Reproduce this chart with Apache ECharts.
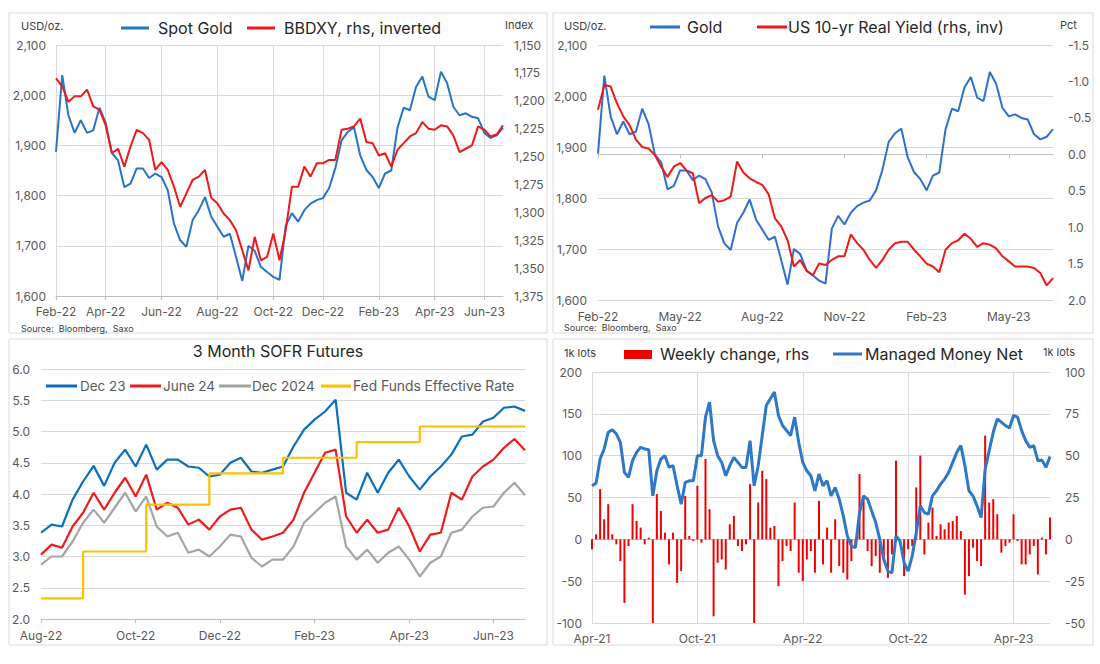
<!DOCTYPE html>
<html><head><meta charset="utf-8">
<script src="https://cdn.jsdelivr.net/npm/echarts@6/dist/echarts.min.js"></script>
<style>html,body{margin:0;padding:0;background:#fff}#c{width:1100px;height:664px}</style>
</head><body><div id="c"></div>
<script>
// ---------- DATA ----------
// Panels 1 & 2: weekly from 2022-02-28
const goldStart = '2022-02-28';
const gold = [1887,2040,1960,1925,1950,1925,1930,1975,1945,1885,1870,1817,1824,1854,1854,1835,1844,1837,1811,1744,
  1711,1698,1751,1771,1797,1758,1738,1718,1724,1678,1630,1700,1690,1658,1648,1638,1632,1740,1765,1748,
  1771,1784,1791,1795,1815,1855,1910,1927,1936,1880,1851,1837,1815,1844,1850,1935,1975,1970,2017,2037,
  1997,1990,2047,2024,1977,1960,1964,1957,1954,1925,1915,1920,1935];
const bbdxy = [1180,1187,1201,1196,1196,1190,1205,1208,1222,1247,1243,1259,1241,1226,1229,1235,1262,1255,1262,1277,
  1295,1283,1271,1268,1262,1287,1292,1301,1307,1316,1334,1352,1322,1343,1340,1319,1343,1316,1277,1277,
  1259,1268,1256,1256,1253,1253,1226,1225,1223,1216,1237,1238,1249,1247,1259,1244,1238,1232,1229,1219,
  1225,1226,1222,1223,1231,1246,1243,1240,1223,1226,1232,1230,1222];
const realYield = [-0.61,-0.95,-0.93,-0.70,-0.52,-0.40,-0.20,-0.10,-0.08,0.01,0.17,0.31,0.17,0.12,0.22,0.26,0.67,0.60,0.56,0.65,
  0.63,0.58,0.10,0.25,0.33,0.38,0.42,0.55,0.88,0.99,1.18,1.54,1.45,1.60,1.66,1.50,1.52,1.45,1.40,1.40,
  1.10,1.22,1.31,1.45,1.56,1.45,1.31,1.22,1.20,1.20,1.31,1.40,1.50,1.54,1.62,1.31,1.22,1.18,1.09,1.16,
  1.27,1.22,1.24,1.29,1.40,1.47,1.54,1.54,1.54,1.56,1.63,1.80,1.70];
const p1TickDates = ['2022-02-28','2022-04-28','2022-06-28','2022-08-28','2022-10-28','2022-12-28','2023-02-28','2023-04-28','2023-06-28'];
const p1TickLabels = ['Feb-22','Apr-22','Jun-22','Aug-22','Oct-22','Dec-22','Feb-23','Apr-23','Jun-23'];
const p2TickDates = ['2022-02-28','2022-05-28','2022-08-28','2022-11-28','2023-02-28','2023-05-28'];
const p2TickLabels = ['Feb-22','May-22','Aug-22','Nov-22','Feb-23','May-23'];

// Panel 3: weekly from 2022-08-26
const sofrStart = '2022-08-26';
const dec23 = [3.38,3.51,3.48,3.91,4.20,4.45,4.13,4.50,4.71,4.44,4.79,4.39,4.55,4.55,4.44,4.42,4.28,4.31,4.50,4.58,
  4.36,4.34,4.39,4.44,4.76,5.03,5.19,5.32,5.51,4.02,3.91,4.34,4.02,4.34,4.55,4.28,4.07,4.28,4.44,4.63,
  4.92,4.95,5.16,5.22,5.38,5.40,5.33];
const jun24 = [3.03,3.19,3.14,3.48,3.70,4.02,3.75,4.02,4.26,3.96,4.31,3.75,3.86,3.78,3.51,3.59,3.43,3.64,3.75,3.78,
  3.43,3.27,3.32,3.38,3.59,4.02,4.34,4.66,4.71,3.64,3.38,3.59,3.38,3.43,3.78,3.48,3.08,3.35,3.38,4.02,
  3.91,4.28,4.44,4.55,4.74,4.88,4.70];
const dec24 = [2.87,3.00,3.00,3.24,3.54,3.75,3.54,3.78,4.02,3.72,3.96,3.48,3.32,3.38,3.06,3.11,3.00,3.16,3.35,3.32,
  2.98,2.84,2.95,2.95,3.16,3.54,3.70,3.86,3.96,3.16,2.95,3.11,2.90,3.06,3.16,2.95,2.68,2.90,3.00,3.38,
  3.43,3.64,3.78,3.80,4.02,4.18,3.98];
const fedFunds = [2.33,2.33,2.33,2.33,3.08,3.08,3.08,3.08,3.08,3.08,3.83,3.83,3.83,3.83,3.83,3.83,4.33,4.33,4.33,4.33,
  4.33,4.33,4.33,4.58,4.58,4.58,4.58,4.58,4.58,4.58,4.83,4.83,4.83,4.83,4.83,4.83,5.08,5.08,5.08,5.08,
  5.08,5.08,5.08,5.08,5.08,5.08,5.08];
const p3TickDates = ['2022-08-26','2022-10-26','2022-12-26','2023-02-26','2023-04-26','2023-06-26'];
const p3TickLabels = ['Aug-22','Oct-22','Dec-22','Feb-23','Apr-23','Jun-23'];

// Panel 4: weekly from 2021-04-06
const cotStart = '2021-04-06';
const mmNet = [64,67,96,108,128,131,126,116,80,74,94,104,110,108,107,52,82,96,100,86,
  88,64,42,68,70,70,100,100,146,164,118,100,92,76,88,98,92,86,86,118,
  64,88,124,160,168,176,148,136,130,124,146,116,92,82,76,58,78,64,70,52,
  62,48,28,4,-8,-10,32,52,48,34,20,0,-24,-38,-40,4,-2,-28,-38,-20,
  8,40,32,30,52,58,66,72,80,92,104,112,88,58,52,40,26,84,106,128,
  144,140,136,133,148,146,130,118,110,112,94,95,86,99];
const weeklyChange = [-6,3,30,12,21,3,-3,-13,-38,-4,21,11,7,-3,1,-50,27,17,4,-15,
  4,-26,-19,26,2,-1,32,-2,48,18,-46,-14,-12,-18,9,14,-4,-7,-3,33,
  -50,22,41,36,7,8,-28,-13,-4,-7,22,-20,-25,-12,-7,-20,23,-15,7,-20,
  12,-16,-20,-24,-13,-4,39,26,-7,-16,-10,-20,-12,-23,-9,47,-3,-22,-6,-4,
  31,50,-9,10,19,2,9,6,10,11,14,5,-33,-22,-5,-13,-16,62,22,24,
  15,-8,-4,-2,15,-1,-15,-15,-9,-4,-21,1,-9,13];
const p4TickDates = ['2021-04-06','2021-10-06','2022-04-06','2022-10-06','2023-04-06'];
const p4TickLabels = ['Apr-21','Oct-21','Apr-22','Oct-22','Apr-23'];

// ---------- HELPERS ----------
const DAY = 864e5;
function weekly(start, n) {
  const t0 = Date.parse(start + 'T00:00:00Z'), out = [];
  for (let i = 0; i < n; i++) out.push(new Date(t0 + i * 7 * DAY).toISOString().slice(0, 10));
  return out;
}
function tickMap(start, dates, labels) {
  const t0 = Date.parse(start + 'T00:00:00Z'), m = {};
  dates.forEach((d, k) => { m[Math.round((Date.parse(d + 'T00:00:00Z') - t0) / (7 * DAY))] = labels[k]; });
  return m;
}
const FONT = 'Inter, "Noto Sans", sans-serif';
const AX = '#595959', GRID = '#d9d9d9', LINE = '#bfbfbf';

function catAxis(gi, cats, tmap, vgrid, margin) {
  const has = i => tmap[i] !== undefined;
  return {
    type: 'category', gridIndex: gi, data: cats, boundaryGap: false,
    axisLine: { lineStyle: { color: LINE } },
    axisTick: { show: true, interval: (i) => has(i), length: 4, lineStyle: { color: LINE } },
    axisLabel: { interval: (i) => has(i), formatter: (v, i) => tmap[i] || '', color: AX, fontSize: 12, fontFamily: FONT, margin: margin },
    splitLine: { show: vgrid, interval: (i) => has(i), lineStyle: { color: GRID } }
  };
}
function valAxis(gi, pos, min, max, interval, fmt, opts) {
  opts = opts || {};
  return {
    type: 'value', gridIndex: gi, position: pos, min: min, max: max, interval: interval,
    inverse: !!opts.inverse,
    axisLine: { show: false }, axisTick: { show: false },
    axisLabel: { formatter: fmt, color: AX, fontSize: 12, fontFamily: FONT, margin: opts.margin || 10 },
    splitLine: { show: !!opts.split, lineStyle: { color: GRID } }
  };
}
const thousands = v => v.toLocaleString('en-US');
const oneDec = v => (Math.abs(v) < 1e-9 ? 0 : v).toFixed(1);

const d1 = weekly(goldStart, gold.length);
const d3 = weekly(sofrStart, dec23.length);
const d4 = weekly(cotStart, mmNet.length);
const t1 = tickMap(goldStart, p1TickDates, p1TickLabels);
const t2 = tickMap(goldStart, p2TickDates, p2TickLabels);
const t3 = tickMap(sofrStart, p3TickDates, p3TickLabels);
const t4 = tickMap(cotStart, p4TickDates, p4TickLabels);

const BLUE = '#2774c8', RED = '#f01818';

function txt(x, y, s, size, color, align) {
  return { type: 'text', x: x, y: y, style: { text: s, fontSize: size, fontFamily: FONT, fill: color, verticalAlign: 'middle', align: align || 'left' } };
}
function lg(x1, x2, y, color, w) {
  return { type: 'line', shape: { x1: x1, y1: y, x2: x2, y2: y }, style: { stroke: color, lineWidth: w || 3 } };
}
function box(x, y, w, h) {
  return { type: 'rect', shape: { x: x, y: y, width: w, height: h }, style: { fill: 'none', stroke: '#d9d9d9', lineWidth: 1 }, z: -1 };
}

const option = {
  animation: false,
  backgroundColor: '#fff',
  grid: [
    { left: 56, right: 597, top: 45, bottom: 368, outerBoundsMode: 'none' },
    { left: 598, right: 47, top: 45, bottom: 364, outerBoundsMode: 'none' },
    { left: 41, right: 575, top: 369, bottom: 45, outerBoundsMode: 'none' },
    { left: 592, right: 50, top: 372, bottom: 41, outerBoundsMode: 'none' }
  ],
  xAxis: [
    catAxis(0, d1, t1, true, 9),
    catAxis(1, d1, t2, false, 10),
    catAxis(2, d3, t3, false, 10),
    catAxis(3, d4, t4, true, 9)
  ],
  yAxis: [
    valAxis(0, 'left', 1600, 2100, 100, thousands, { split: true, margin: 10 }),
    valAxis(0, 'right', 1150, 1375, 25, thousands, { inverse: true, margin: 11 }),
    valAxis(1, 'left', 1600, 2100, 100, thousands, { split: true, margin: 11 }),
    valAxis(1, 'right', -1.5, 2.0, 0.5, oneDec, { inverse: true, margin: 15 }),
    valAxis(2, 'left', 2, 6, 0.5, oneDec, { split: true, margin: 11 }),
    valAxis(3, 'left', -100, 200, 50, v => String(v), { split: true, margin: 10 }),
    valAxis(3, 'right', -50, 100, 25, v => String(v), { margin: 15 })
  ],
  series: [
    { name: 'Spot Gold', type: 'line', xAxisIndex: 0, yAxisIndex: 0, data: gold, symbol: 'none', lineStyle: { color: BLUE, width: 2 } },
    { name: 'BBDXY, rhs, inverted', type: 'line', xAxisIndex: 0, yAxisIndex: 1, data: bbdxy, symbol: 'none', lineStyle: { color: RED, width: 2 } },
    { name: 'Gold', type: 'line', xAxisIndex: 1, yAxisIndex: 2, data: gold, symbol: 'none', lineStyle: { color: '#2f6fd0', width: 2 } },
    { name: 'US 10-yr Real Yield (rhs, inv)', type: 'line', xAxisIndex: 1, yAxisIndex: 3, data: realYield, symbol: 'none', lineStyle: { color: RED, width: 2 } },
    { name: 'Dec 23', type: 'line', xAxisIndex: 2, yAxisIndex: 4, data: dec23, symbol: 'none', lineStyle: { color: '#0b6fc0', width: 2.2 } },
    { name: 'June 24', type: 'line', xAxisIndex: 2, yAxisIndex: 4, data: jun24, symbol: 'none', lineStyle: { color: '#f21b1b', width: 2.2 } },
    { name: 'Dec 2024', type: 'line', xAxisIndex: 2, yAxisIndex: 4, data: dec24, symbol: 'none', lineStyle: { color: '#a5a5a5', width: 2.2 } },
    { name: 'Fed Funds Effective Rate', type: 'line', step: 'end', xAxisIndex: 2, yAxisIndex: 4, data: fedFunds, symbol: 'none', lineStyle: { color: '#ffc000', width: 2.2 } },
    { name: 'Weekly change, rhs', type: 'bar', xAxisIndex: 3, yAxisIndex: 6, data: weeklyChange, barWidth: 2, itemStyle: { color: '#f00000' } },
    { name: 'Managed Money Net', type: 'line', xAxisIndex: 3, yAxisIndex: 5, data: mmNet, symbol: 'none', lineStyle: { color: '#2d78c8', width: 3 }, z: 3 }
  ],
  graphic: [
    box(9, 13, 538, 320), box(553, 13, 540, 320), box(9, 339, 538, 306), box(553, 339, 540, 306),
    // panel 1
    txt(21, 26, 'USD/oz.', 11, '#404040'),
    lg(121, 149, 28, BLUE, 3), txt(158, 28, 'Spot Gold', 16, '#262626'),
    lg(247, 275, 28, RED, 3), txt(284, 28, 'BBDXY, rhs, inverted', 16, '#262626'),
    txt(505, 25, 'Index', 11, '#404040'),
    txt(21, 328, 'Source:  Bloomberg,  Saxo', 9, '#404040'),
    // panel 2
    txt(564, 26, 'USD/oz.', 11, '#404040'),
    lg(650, 680, 27, '#2f6fd0', 3), txt(687, 27, 'Gold', 16, '#262626'),
    lg(757, 787, 27, RED, 3), txt(788, 27, 'US 10-yr Real Yield (rhs, inv)', 16, '#262626'),
    txt(1060, 25, 'Pct', 11, '#404040'),
    txt(564, 327, 'Source:  Bloomberg,  Saxo', 9, '#404040'),
    // panel 3
    txt(278, 351, '3 Month SOFR Futures', 16, '#262626', 'center'),
    lg(46, 77, 386, '#0b6fc0', 3), txt(80, 386, 'Dec 23', 13.5, AX),
    lg(130, 161, 386, '#f21b1b', 3), txt(163, 386, 'June 24', 13.5, AX),
    lg(219, 251, 386, '#a5a5a5', 3), txt(252, 386, 'Dec 2024', 13.5, AX),
    lg(321, 351, 386, '#ffc000', 3), txt(353, 386, 'Fed Funds Effective Rate', 13.8, AX),
    // panel 4
    txt(564, 353, '1k lots', 11, '#404040'),
    { type: 'rect', shape: { x: 624, y: 350, width: 28, height: 9 }, style: { fill: '#f00000' } },
    txt(660, 354, 'Weekly change, rhs', 16, '#262626'),
    lg(833, 862, 354, '#2d78c8', 3), txt(865, 354, 'Managed Money Net', 16, '#262626'),
    txt(1043, 352, '1k lots', 11, '#404040')
  ]
};
const chart = echarts.init(document.getElementById('c'), null, { renderer: 'svg' });
chart.setOption(option);
</script></body></html>
